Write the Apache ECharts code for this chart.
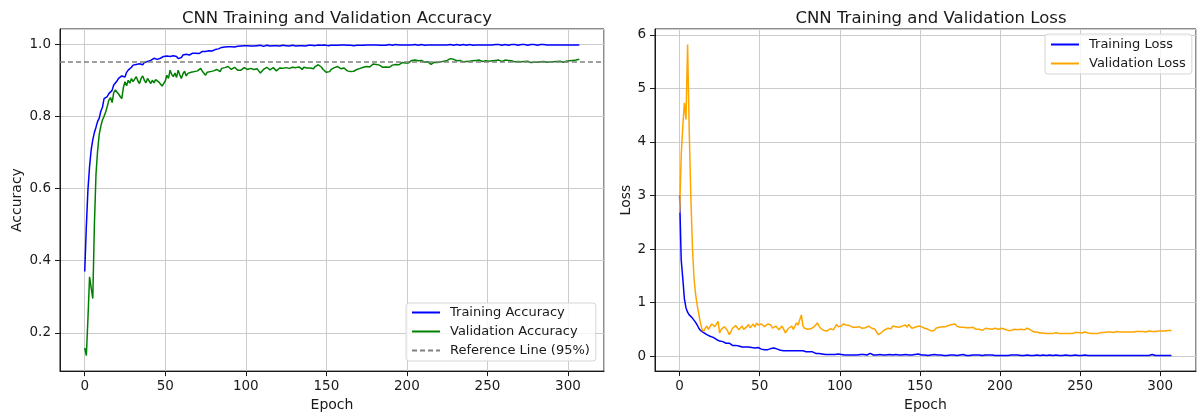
<!DOCTYPE html>
<html>
<head>
<meta charset="utf-8">
<script src="https://cdn.jsdelivr.net/npm/echarts@6/dist/echarts.min.js"></script>
<style>
  html, body { margin: 0; padding: 0; background: #fff; }
  #chart { width: 1198px; height: 417px; }
</style>
</head>
<body>
<div id="chart"></div>
<script>
const trainAcc = [
  0.370,0.495,0.597,0.661,0.707,0.735,0.755,0.770,0.786,0.795,
  0.814,0.825,0.849,0.845,0.855,0.863,0.858,0.872,0.887,0.884,
  0.898,0.905,0.900,0.912,0.914,0.909,0.922,0.928,0.925,0.936,
  0.942,0.938,0.944,0.940,0.946,0.947,0.943,0.949,0.951,0.952,
  0.948,0.955,0.957,0.961,0.956,0.958,0.962,0.961,0.964,0.966,
  0.963,0.967,0.969,0.966,0.970,0.968,0.970,0.966,0.960,0.956,
  0.963,0.970,0.968,0.972,0.973,0.970,0.974,0.975,0.973,0.975,
  0.977,0.974,0.978,0.980,0.979,0.980,0.976,0.982,0.983,0.981,
  0.984,0.985,0.983,0.987,0.990,0.991,0.989,0.992,0.991,0.993,
  0.992,0.993,0.994,0.992,0.995,0.994,0.993,0.995,0.994,0.996,
  0.995,0.996,0.994,0.995,0.997,0.995,0.994,0.996,0.995,0.997,
  0.996,0.994,0.995,0.997,0.996,0.995,0.997,0.996,0.994,0.996,
  0.997,0.995,0.996,0.997,0.995,0.996,0.997,0.995,0.996,0.997,
  0.996,0.995,0.997,0.996,0.994,0.996,0.997,0.995,0.996,0.997,
  0.996,0.997,0.995,0.996,0.997,0.998,0.996,0.997,0.996,0.998,
  0.997,0.996,0.998,0.997,0.996,0.997,0.998,0.997,0.996,0.998,
  0.997,0.998,0.996,0.997,0.998,0.997,0.998,0.996,0.998,0.997,
  0.998,0.997,0.998,0.997,0.996,0.998,0.997,0.998,0.997,0.998,
  0.997,0.998,0.999,0.997,0.998,0.997,0.998,0.997,0.998,0.999,
  0.998,0.997,0.998,0.999,0.997,0.998,0.997,0.998,0.999,0.998,
  0.997,0.998,0.999,0.998,0.997,0.999,0.998,0.997,0.998,0.999,
  0.998,0.997,0.999,0.998,0.997,0.998,0.999,0.998,0.997,0.998,
  0.999,0.998,0.997,0.998,0.999,0.998,0.997,0.999,0.998,0.997,
  0.998,0.999,0.998,0.997,0.998,0.999,0.998,0.997,0.998,0.999,
  0.998,0.997,0.999,0.998,0.997,0.998,0.999,0.998,0.999,0.998,
  0.997,0.998,0.999,0.998,0.997,0.999,0.998,0.999,0.998,0.997,
  0.998,0.999,0.998,0.997,0.998,0.999,0.998,0.999,0.998,0.997,
  0.998,0.999,0.998,0.999,0.998,0.997,0.998,0.999,0.998,0.999,
  0.998,0.997,0.998,0.999,0.998,0.999,0.998,0.998,0.999,0.998,
  0.997,0.998,0.999,0.998,0.999,0.998,0.997,0.998,0.999,0.998,
  0.999,0.998,0.999,0.998,0.997,0.998,0.999,0.998
]

const valAcc = [
  0.158,0.137,0.240,0.355,0.360,0.295,0.500,0.640,0.705,0.750,
  0.773,0.790,0.800,0.812,0.828,0.845,0.852,0.838,0.866,0.873,
  0.877,0.862,0.855,0.849,0.880,0.896,0.885,0.900,0.892,0.905,
  0.896,0.903,0.910,0.898,0.891,0.905,0.912,0.900,0.893,0.905,
  0.898,0.891,0.900,0.893,0.902,0.900,0.895,0.890,0.884,0.880,
  0.898,0.914,0.905,0.928,0.916,0.910,0.920,0.908,0.928,0.915,
  0.905,0.918,0.925,0.912,0.919,0.915,0.922,0.918,0.924,0.920,
  0.926,0.930,0.933,0.925,0.920,0.914,0.922,0.926,0.924,0.920,
  0.926,0.928,0.930,0.928,0.924,0.933,0.930,0.935,0.933,0.938,
  0.935,0.930,0.933,0.936,0.932,0.928,0.930,0.928,0.933,0.935,
  0.932,0.930,0.935,0.933,0.928,0.930,0.934,0.932,0.926,0.920,
  0.925,0.930,0.933,0.936,0.932,0.929,0.933,0.935,0.930,0.926,
  0.930,0.934,0.937,0.933,0.930,0.935,0.938,0.933,0.930,0.936,
  0.938,0.935,0.940,0.937,0.933,0.930,0.936,0.938,0.934,0.931,
  0.934,0.936,0.932,0.938,0.941,0.943,0.940,0.936,0.930,0.925,
  0.922,0.926,0.924,0.930,0.933,0.935,0.932,0.938,0.935,0.932,
  0.936,0.934,0.930,0.926,0.922,0.924,0.921,0.925,0.928,0.930,
  0.927,0.933,0.930,0.936,0.933,0.938,0.942,0.937,0.942,0.945,
  0.940,0.944,0.947,0.942,0.939,0.936,0.940,0.937,0.933,0.936,
  0.940,0.942,0.938,0.944,0.946,0.943,0.947,0.949,0.946,0.948,
  0.950,0.948,0.952,0.955,0.958,0.956,0.952,0.954,0.951,0.955,
  0.953,0.950,0.948,0.951,0.947,0.944,0.948,0.950,0.952,0.949,
  0.953,0.951,0.955,0.953,0.957,0.955,0.958,0.960,0.961,0.958,
  0.956,0.954,0.952,0.955,0.953,0.951,0.954,0.952,0.950,0.953,
  0.951,0.954,0.952,0.955,0.953,0.956,0.954,0.952,0.956,0.954,
  0.955,0.953,0.956,0.954,0.952,0.955,0.953,0.956,0.954,0.952,
  0.954,0.956,0.953,0.955,0.952,0.954,0.953,0.951,0.954,0.952,
  0.953,0.951,0.954,0.952,0.950,0.953,0.951,0.949,0.952,0.950,
  0.948,0.950,0.949,0.951,0.950,0.952,0.951,0.950,0.952,0.951,
  0.953,0.951,0.950,0.952,0.951,0.953,0.952,0.950,0.951,0.953,
  0.952,0.954,0.953,0.955,0.954,0.956,0.957,0.958
]

const trainLoss = [
  3.00,1.80,1.45,1.07,0.90,0.82,0.77,0.74,0.71,0.68,
  0.63,0.58,0.52,0.48,0.45,0.44,0.42,0.40,0.38,0.37,
  0.36,0.35,0.37,0.31,0.33,0.28,0.30,0.27,0.26,0.24,
  0.23,0.24,0.21,0.20,0.19,0.20,0.18,0.19,0.19,0.17,
  0.18,0.17,0.16,0.17,0.15,0.16,0.14,0.15,0.14,0.16,
  0.14,0.13,0.14,0.12,0.13,0.12,0.11,0.14,0.13,0.15,
  0.12,0.13,0.12,0.11,0.12,0.10,0.11,0.10,0.09,0.10,
  0.09,0.10,0.09,0.10,0.11,0.10,0.09,0.10,0.09,0.08,
  0.09,0.08,0.07,0.08,0.06,0.05,0.04,0.05,0.04,0.04,
  0.04,0.03,0.04,0.03,0.03,0.03,0.02,0.03,0.03,0.04,
  0.05,0.03,0.03,0.02,0.03,0.02,0.03,0.02,0.03,0.02,
  0.03,0.02,0.02,0.03,0.02,0.03,0.03,0.02,0.04,0.05,
  0.03,0.02,0.03,0.02,0.02,0.03,0.02,0.02,0.03,0.02,
  0.02,0.03,0.02,0.02,0.02,0.03,0.02,0.02,0.02,0.02,
  0.02,0.03,0.02,0.02,0.03,0.02,0.02,0.03,0.02,0.04,
  0.02,0.02,0.01,0.02,0.02,0.01,0.02,0.02,0.02,0.03,
  0.02,0.02,0.01,0.02,0.02,0.01,0.02,0.01,0.02,0.02,
  0.01,0.02,0.02,0.01,0.02,0.02,0.01,0.03,0.02,0.01,
  0.02,0.01,0.02,0.02,0.01,0.02,0.01,0.02,0.02,0.01,
  0.02,0.02,0.01,0.02,0.01,0.02,0.01,0.01,0.02,0.01,
  0.02,0.01,0.02,0.01,0.02,0.01,0.01,0.02,0.01,0.02,
  0.01,0.02,0.01,0.01,0.02,0.01,0.01,0.02,0.01,0.01,
  0.02,0.01,0.01,0.02,0.01,0.01,0.01,0.02,0.01,0.01,
  0.01,0.02,0.01,0.01,0.01,0.02,0.01,0.01,0.02,0.01,
  0.01,0.02,0.03,0.01,0.01,0.01,0.01,0.02,0.01,0.01,
  0.01,0.01,0.01,0.02,0.01,0.01,0.01,0.01,0.01,0.01,
  0.01,0.01,0.01,0.01,0.02,0.01,0.01,0.01,0.01,0.01,
  0.01,0.01,0.01,0.01,0.01,0.01,0.01,0.01,0.02,0.01,
  0.01,0.01,0.01,0.01,0.01,0.01,0.01,0.01,0.01,0.01,
  0.01,0.01,0.01,0.01,0.02,0.03,0.01,0.01,0.01,0.01,
  0.01,0.01,0.01,0.01,0.01,0.01,0.01,0.01
]

const valLoss = [
  2.68,3.74,4.30,4.73,4.42,5.82,4.23,3.00,2.05,1.45,
  1.15,0.95,0.78,0.62,0.50,0.46,0.52,0.56,0.50,0.52,
  0.60,0.62,0.55,0.58,0.65,0.43,0.50,0.49,0.55,0.52,
  0.47,0.40,0.45,0.52,0.50,0.57,0.55,0.49,0.52,0.56,
  0.50,0.52,0.55,0.59,0.53,0.56,0.60,0.54,0.62,0.58,
  0.56,0.60,0.59,0.55,0.57,0.60,0.63,0.58,0.52,0.55,
  0.56,0.53,0.49,0.52,0.56,0.50,0.43,0.48,0.52,0.55,
  0.56,0.50,0.52,0.62,0.58,0.68,0.77,0.56,0.52,0.49,
  0.50,0.53,0.51,0.52,0.55,0.58,0.62,0.56,0.52,0.50,
  0.48,0.49,0.47,0.50,0.51,0.52,0.49,0.54,0.59,0.55,
  0.52,0.56,0.60,0.63,0.58,0.56,0.57,0.55,0.54,0.56,
  0.54,0.52,0.55,0.53,0.52,0.50,0.53,0.55,0.56,0.53,
  0.52,0.55,0.50,0.45,0.40,0.42,0.44,0.46,0.49,0.48,
  0.52,0.54,0.51,0.56,0.53,0.55,0.56,0.54,0.52,0.56,
  0.55,0.58,0.54,0.59,0.60,0.52,0.55,0.54,0.57,0.56,
  0.58,0.55,0.53,0.52,0.54,0.50,0.48,0.47,0.46,0.48,
  0.52,0.50,0.54,0.56,0.55,0.57,0.55,0.58,0.57,0.56,
  0.59,0.57,0.60,0.56,0.59,0.54,0.52,0.54,0.52,0.53,
  0.51,0.53,0.52,0.54,0.52,0.50,0.51,0.50,0.53,0.48,
  0.50,0.52,0.50,0.51,0.52,0.50,0.51,0.52,0.51,0.50,
  0.51,0.52,0.51,0.50,0.49,0.48,0.49,0.48,0.49,0.50,
  0.48,0.49,0.48,0.50,0.51,0.49,0.50,0.52,0.51,0.49,
  0.47,0.45,0.44,0.45,0.44,0.43,0.44,0.43,0.43,0.42,
  0.43,0.42,0.43,0.42,0.43,0.44,0.43,0.42,0.44,0.42,
  0.41,0.42,0.43,0.42,0.43,0.42,0.43,0.44,0.43,0.44,
  0.44,0.43,0.44,0.45,0.44,0.43,0.43,0.42,0.43,0.42,
  0.43,0.42,0.43,0.44,0.43,0.44,0.44,0.45,0.44,0.45,
  0.45,0.44,0.45,0.46,0.45,0.45,0.44,0.45,0.46,0.45,
  0.46,0.45,0.46,0.45,0.46,0.46,0.45,0.46,0.47,0.46,
  0.46,0.45,0.46,0.47,0.46,0.46,0.47,0.46,0.46,0.47,
  0.47,0.47,0.46,0.47,0.47,0.48,0.47,0.48
]

const refLevel = 0.95
const refName = 'Reference Line (95%)'

const font = 'DejaVu Sans'
const ink = '#1a1a1a'

// matplotlib style 5% margins around the data
const pad = (lo, hi) => {
  const m = (hi - lo) * 0.05
  return [lo - m, hi + m]
}
const lastEpoch = trainAcc.length - 1
const xRange = pad(0, lastEpoch)
const accRange = pad(Math.min(...trainAcc, ...valAcc), Math.max(...trainAcc, ...valAcc))
const lossRange = pad(Math.min(...trainLoss, ...valLoss), Math.max(...trainLoss, ...valLoss))

const toPoints = arr => arr.map((v, i) => [i, v])

const gridStyle = { show: true, borderColor: ink, borderWidth: 1, backgroundColor: '#fff' }

const xAxisFor = (idx) => ({
  type: 'value',
  gridIndex: idx,
  min: xRange[0],
  max: xRange[1],
  splitNumber: 7,
  name: 'Epoch',
  nameLocation: 'middle',
  nameGap: 25,
  nameTextStyle: { fontFamily: font, fontSize: 14, color: ink },
  axisLine: { show: true, onZero: false, lineStyle: { color: ink, width: 1 } },
  axisTick: { show: true, length: 5, lineStyle: { color: ink } },
  axisLabel: { fontFamily: font, fontSize: 13.5, color: ink, margin: 8, showMinLabel: false, showMaxLabel: false },
  splitLine: { show: true, lineStyle: { color: '#cbcbcb', width: 1 } }
})

const yAxisFor = (idx, range, name, gap) => ({
  type: 'value',
  gridIndex: idx,
  min: range[0],
  max: range[1],
  name: name,
  nameLocation: 'middle',
  nameGap: gap,
  nameTextStyle: { fontFamily: font, fontSize: 14, color: ink },
  axisLine: { show: true, onZero: false, lineStyle: { color: ink, width: 1 } },
  axisTick: { show: true, length: 5, lineStyle: { color: ink } },
  axisLabel: {
    fontFamily: font, fontSize: 13.5, color: ink, margin: 9,
    showMinLabel: false, showMaxLabel: false,
    formatter: v => idx === 0 ? v.toFixed(1) : String(Math.round(v))
  },
  splitLine: { show: true, lineStyle: { color: '#cbcbcb', width: 1 } }
})

const lineSeries = (name, data, color, idx) => ({
  name: name,
  type: 'line',
  xAxisIndex: idx,
  yAxisIndex: idx,
  data: toPoints(data),
  showSymbol: false,
  symbol: 'none',
  lineStyle: { color: color, width: 1.5 },
  itemStyle: { color: color },
  emphasis: { disabled: true }
})

// legend: plain line samples, no marker dot
const legendBase = {
  orient: 'vertical',
  itemWidth: 28,
  itemHeight: 14,
  itemGap: 6,
  itemStyle: { opacity: 0 },
  backgroundColor: 'rgba(255,255,255,0.8)',
  borderColor: '#d6d6d6',
  borderWidth: 1,
  borderRadius: 3,
  textStyle: { fontFamily: font, fontSize: 13, color: ink, padding: [0, 0, 0, 5] }
}

const chart = echarts.init(document.getElementById('chart'))

const option = {
  animation: false,
  title: [
    {
      text: 'CNN Training and Validation Accuracy',
      left: 332, top: 5, textAlign: 'center',
      textStyle: { fontFamily: font, fontSize: 16.5, fontWeight: 'normal', color: ink }
    },
    {
      text: 'CNN Training and Validation Loss',
      left: 926, top: 5, textAlign: 'center',
      textStyle: { fontFamily: font, fontSize: 16.5, fontWeight: 'normal', color: ink }
    }
  ],
  legend: [
    Object.assign({}, legendBase, {
      data: ['Training Accuracy', 'Validation Accuracy', refName],
      left: 406, top: 303,
      padding: [3, 6, 4, 5]
    }),
    Object.assign({}, legendBase, {
      data: ['Training Loss', 'Validation Loss'],
      left: 1045, top: 34,
      padding: [4, 6, 4, 5]
    })
  ],
  grid: [
    Object.assign({ left: 60, right: 594, top: 29, bottom: 45 }, gridStyle),
    Object.assign({ left: 655, right: 2, top: 29, bottom: 45 }, gridStyle)
  ],
  xAxis: [xAxisFor(0), xAxisFor(1)],
  yAxis: [yAxisFor(0, accRange, 'Accuracy', 36), yAxisFor(1, lossRange, 'Loss', 22)],
  series: [
    {
      name: refName,
      type: 'line',
      xAxisIndex: 0,
      yAxisIndex: 0,
      data: [],
      symbol: 'none',
      lineStyle: { color: '#808080', width: 1.5, type: [5, 3] },
      itemStyle: { color: '#808080' },
      markLine: {
        silent: true,
        symbol: 'none',
        label: { show: false },
        lineStyle: { color: '#808080', width: 1.5, type: [5, 3] },
        data: [{ yAxis: refLevel }]
      }
    },
    lineSeries('Training Accuracy', trainAcc, '#0000ff', 0),
    lineSeries('Validation Accuracy', valAcc, '#008000', 0),
    lineSeries('Training Loss', trainLoss, '#0000ff', 1),
    lineSeries('Validation Loss', valLoss, '#ffa500', 1)
  ]
}

chart.setOption(option)
</script>
</body>
</html>
